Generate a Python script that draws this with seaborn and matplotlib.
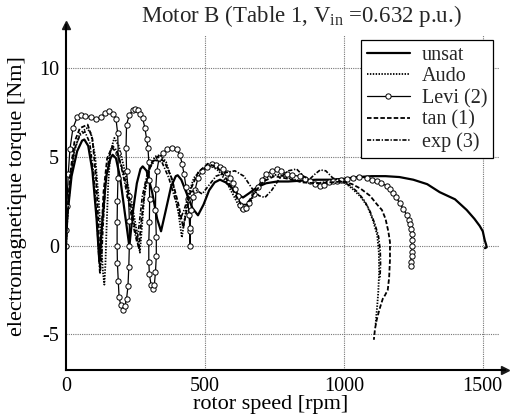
import matplotlib
matplotlib.use("Agg")
import matplotlib.pyplot as plt
import seaborn as sns
import numpy as np

# ---------------- data ----------------
x_ticks = [0, 500, 1000, 1500]
y_ticks = [-5, 0, 5, 10]

unsat_x = [0, 5, 20, 40, 58, 66, 80, 95, 110, 120, 130, 145, 160, 168, 180, 195, 212, 228, 240, 255, 268, 276,
           290, 310, 328, 342, 358, 378, 395, 402, 415, 435, 455, 475, 495, 515, 535, 554, 575, 600, 620, 637,
           660, 690, 720, 760, 800, 850, 900, 950, 1000, 1050, 1100, 1150, 1200, 1250, 1300, 1345, 1400, 1442,
           1470, 1489, 1500, 1507, 1512, 1514, 1508]
unsat_y = [0, 1.7, 3.9, 5.3, 5.9, 5.96, 5.6, 4.2, 1.5, -0.9, 1.2, 3.9, 4.9, 5.1, 4.9, 3.8, 1.8, -0.05, 1.8, 3.5,
           4.3, 4.45, 4.2, 3.0, 1.5, 0.8, 1.9, 3.3, 3.9, 3.95, 3.7, 2.9, 2.1, 1.7, 2.3, 3.1, 3.55, 3.7, 3.55,
           3.2, 2.85, 2.7, 2.95, 3.3, 3.5, 3.6, 3.6, 3.65, 3.7, 3.7, 3.75, 3.85, 3.9, 3.9, 3.85, 3.7, 3.45,
           3.0, 2.6, 2.0, 1.5, 1.1, 0.8, 0.3, 0.05, -0.1, -0.15]

audo_x = [0, 5, 15, 30, 50, 75, 90, 105, 118, 126, 133, 138, 142, 146, 152, 160, 174, 190, 210, 235, 255,
          266, 272, 282, 300, 320, 340, 360, 385, 405, 417, 425, 440, 460, 490, 520, 550, 580, 610, 630, 645,
          660, 690, 720, 760, 800, 850, 900, 950, 990, 1010, 1030, 1060, 1085, 1105, 1120, 1126, 1127, 1124,
          1120, 1116, 1114]
audo_y = [0, 1.5, 3.5, 5.3, 6.3, 6.6, 6.3, 5.0, 2.5, 0.3, -1.5, -2.2, -1.0, 1.0, 3.5, 5.3, 6.05, 5.6, 4.3, 2.5,
          0.8, -0.4, 0.8, 2.8, 4.3, 5.0, 5.1, 4.7, 3.5, 1.8, 0.45, 1.3, 2.8, 3.8, 4.3, 4.5, 4.2, 3.5, 2.6, 2.0,
          1.9, 2.3, 3.3, 3.8, 4.0, 3.8, 3.6, 3.5, 3.6, 3.6, 3.45, 3.2, 2.75, 2.2, 1.4, 0.6, -0.4, -1.5, -2.6,
          -3.4, -4.1, -4.5]

levi_x = [0, 0, 3, 8, 14, 25, 40, 55, 70, 90, 108, 126, 142, 156, 170, 180, 186, 188, 187, 185, 184, 184, 185,
          188, 191, 197, 205, 212, 218, 223, 226, 228, 228, 225, 218, 216, 218, 228, 240, 250, 258, 268, 276,
          284, 290, 295, 298, 300, 301, 300, 298, 298, 300, 306, 312, 318, 322, 325, 325, 322, 323, 327, 335,
          348, 363, 381, 399, 410, 418, 425, 432, 438, 443, 446, 447, 446, 450, 457, 464, 475, 489, 507, 525,
          540, 554, 566, 579, 590, 601, 610, 619, 628, 637, 648, 660, 675, 690, 705, 720, 740, 759, 775, 795,
          815, 842, 860, 878, 896, 914, 930, 945, 960, 975, 990, 1010, 1032, 1055, 1083, 1100, 1119, 1135,
          1155, 1166, 1176, 1188, 1201, 1214, 1227, 1233, 1237, 1241, 1244, 1245, 1245, 1245, 1244, 1241, 1241]
levi_y = [0, 0.9, 2.2, 4.0, 5.4, 6.6, 7.2, 7.35, 7.3, 7.2, 7.1, 7.25, 7.45, 7.55, 7.4, 7.1, 6.3, 5.2, 3.8, 2.5,
          1.3, 0, -1.0, -2.0, -2.9, -3.35, -3.6, -3.4, -3.0, -2.3, -1.2, 0, 1.4, 2.8, 4.2, 5.5, 6.8, 7.35, 7.6,
          7.65, 7.6, 7.4, 7.15, 6.6, 6.0, 5.5, 4.7, 3.7, 2.6, 1.3, 0.2, -0.9, -1.6, -2.2, -2.45, -2.2, -1.5,
          -0.6, 0.5, 2.0, 3.2, 4.2, 4.9, 5.2, 5.4, 5.5, 5.4, 5.1, 4.6, 4.0, 3.3, 2.6, 1.7, 0.8, 0.0, 1.0, 2.0,
          2.7, 3.1, 3.8, 4.2, 4.4, 4.6, 4.55, 4.4, 4.3, 4.1, 3.8, 3.5, 3.2, 2.8, 2.3, 2.05, 2.1, 2.4, 2.9, 3.3,
          3.7, 4.0, 4.2, 4.3, 4.2, 4.0, 3.95, 3.9, 3.75, 3.6, 3.45, 3.35, 3.4, 3.55, 3.6, 3.65, 3.7, 3.75, 3.8,
          3.85, 3.8, 3.7, 3.6, 3.5, 3.35, 3.15, 2.95, 2.7, 2.4, 2.05, 1.7, 1.45, 1.2, 0.95, 0.65, 0.3, -0.05,
          -0.35, -0.6, -0.9, -1.15]

tan_x = [0, 5, 15, 30, 50, 78, 95, 108, 116, 122, 127, 135, 148, 165, 185, 205, 230, 250, 262, 270, 285, 305,
         330, 355, 380, 405, 422, 432, 450, 475, 510, 545, 575, 605, 630, 650, 675, 710, 750, 800, 850, 900,
         950, 1000, 1030, 1060, 1094, 1120, 1137, 1150, 1160, 1166, 1166, 1163, 1158, 1148, 1140, 1128, 1118,
         1112, 1108]
tan_y = [0, 1.8, 4.0, 5.8, 6.6, 6.8, 6.0, 3.8, 1.5, -1.3, 0.5, 3.0, 4.9, 5.5, 5.2, 4.2, 2.5, 0.8, -0.2, 1.2, 3.3,
         4.6, 5.0, 4.7, 3.8, 2.3, 1.0, 1.8, 3.2, 4.1, 4.6, 4.4, 3.8, 3.0, 2.3, 2.3, 2.9, 3.6, 3.9, 3.75, 3.55,
         3.5, 3.55, 3.6, 3.45, 3.2, 2.8, 2.3, 2.0, 1.5, 0.8, 0.2, -0.8, -1.8, -2.5, -2.8, -3.0, -3.6, -4.2,
         -4.7, -5.3]

exp_x = [0, 5, 15, 30, 50, 68, 85, 100, 110, 117, 122, 128, 133, 142, 155, 168, 185, 205, 225, 245, 255, 262,
         275, 295, 320, 345, 370, 395, 412, 425, 445, 470, 490, 510, 540, 575, 608, 640, 670, 695, 716, 740,
         770, 800, 830, 855, 875, 895, 915, 935, 960, 990, 1020, 1050, 1075, 1095, 1112, 1125, 1131, 1132,
         1130]
exp_y = [0, 1.6, 3.6, 5.4, 6.2, 6.4, 5.8, 4.0, 1.8, -0.3, -1.6, -0.8, 1.0, 3.4, 5.0, 5.6, 5.3, 4.0, 2.5, 0.9,
         0.2, 1.0, 2.8, 4.2, 4.8, 4.7, 3.8, 2.5, 1.5, 2.0, 3.0, 3.1, 2.9, 3.3, 3.9, 4.1, 4.2, 3.9, 3.2, 2.8,
         2.7, 3.1, 3.8, 4.2, 4.3, 3.9, 3.7, 4.0, 4.25, 4.2, 3.8, 3.6, 3.4, 3.0, 2.5, 1.9, 1.2, 0.5, -0.3,
         -1.0, -1.9]

series_labels = ["unsat", "Audo", "Levi (2)", "tan (1)", "exp (3)"]
title_text = "Motor B (Table 1, V$_{\\rm in}$ =0.632 p.u.)"
xlabel_text = "rotor speed [rpm]"
ylabel_text = "electromagnetique torque [Nm]"

# ---------------- style ----------------
sns.set_theme(style="white")
plt.rcParams["font.family"] = ["Liberation Serif", "DejaVu Serif"]
plt.rcParams["mathtext.fontset"] = "custom"
plt.rcParams["mathtext.rm"] = "Liberation Serif"
plt.rcParams["mathtext.it"] = "Liberation Serif:italic"

fig = plt.figure(figsize=(5.12, 4.19), dpi=100)
ax = fig.add_axes([66 / 512, 49 / 419, 439 / 512, 345 / 419])

xmin, xmax = 0, 1580
ymin, ymax = -7.0, 12.4

# grid (drawn short, like the reference)
ax.vlines(x_ticks[1:], ymin, 11.85, colors="#777777", linestyles=(0, (1, 1)), linewidth=0.8, zorder=0)
ax.hlines(y_ticks, 0, 1560, colors="#777777", linestyles=(0, (1, 1)), linewidth=0.8, zorder=0)

sns.lineplot(x=unsat_x, y=unsat_y, sort=False, estimator=None, ax=ax, color="black",
             linewidth=1.6, label=series_labels[0])
sns.lineplot(x=audo_x, y=audo_y, sort=False, estimator=None, ax=ax, color="black",
             linewidth=1.3, linestyle=(0, (0.8, 0.8)), label=series_labels[1])
sns.lineplot(x=levi_x, y=levi_y, sort=False, estimator=None, ax=ax, color="black",
             linewidth=0.9, marker="o", markersize=3.8, markerfacecolor="white",
             markeredgecolor="black", markeredgewidth=0.7, label=series_labels[2])
sns.lineplot(x=tan_x, y=tan_y, sort=False, estimator=None, ax=ax, color="black",
             linewidth=1.3, linestyle=(0, (2.5, 1.2)), label=series_labels[3])
sns.lineplot(x=exp_x, y=exp_y, sort=False, estimator=None, ax=ax, color="black",
             linewidth=1.2, linestyle=(0, (2.5, 1.0, 0.8, 1.0)), label=series_labels[4])

ax.set_xlim(xmin, xmax)
ax.set_ylim(ymin, ymax)
ax.set_xticks(x_ticks)
ax.set_yticks(y_ticks)
ax.set_xticklabels([str(v) for v in x_ticks])
ax.set_yticklabels([str(v) for v in y_ticks])
ax.tick_params(axis="both", length=0, labelsize=14.5, colors="black", pad=5)

for s in ["top", "right"]:
    ax.spines[s].set_visible(False)
for s in ["left", "bottom"]:
    ax.spines[s].set_color("black")
    ax.spines[s].set_linewidth(1.5)

# arrow heads
ax.plot(1, 0, ">k", transform=ax.transAxes, clip_on=False, markersize=6)
ax.plot(0, 1, "^k", transform=ax.transAxes, clip_on=False, markersize=6)

ax.set_xlabel(xlabel_text, fontsize=16, color="black")
ax.set_ylabel(ylabel_text, fontsize=16, color="black")
ax.xaxis.set_label_coords(0.465, -0.072)
ax.yaxis.set_label_coords(-0.088, 0.505)

fig.text(301 / 512, 1 - 16 / 419, title_text, ha="center", va="center", fontsize=16.5)

leg = ax.legend(loc="upper right", bbox_to_anchor=(0.973, 0.957), borderaxespad=0,
                fontsize=14.5, frameon=True, fancybox=False, framealpha=1, edgecolor="black",
                handlelength=2.1, handletextpad=0.6, labelspacing=0.12, borderpad=0.3)
leg.get_frame().set_linewidth(0.9)

fig.savefig("out.png", dpi=100)
